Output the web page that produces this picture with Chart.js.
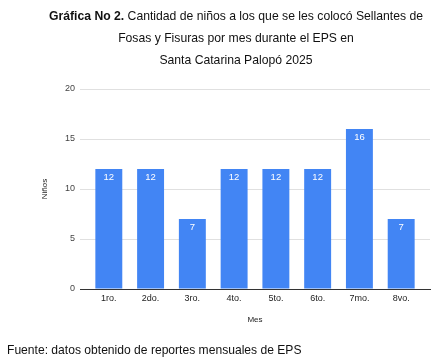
<!DOCTYPE html>
<html><head><meta charset="utf-8">
<script src="https://cdn.jsdelivr.net/npm/chart.js@4/dist/chart.umd.min.js"></script>
<style>
html,body{margin:0;padding:0;background:#fff;width:448px;height:358px;overflow:hidden;font-family:"Liberation Sans",Arial,sans-serif;}
#wrap{position:absolute;left:0;top:0;width:448px;height:358px;}
.t{position:absolute;left:24px;width:424px;text-align:center;font-size:12.2px;color:#111;white-space:nowrap;}
#foot{position:absolute;left:7px;top:343px;font-size:12.1px;color:#111;white-space:nowrap;}
</style></head>
<body>
<div id="wrap"><canvas id="c" width="448" height="358"></canvas></div>
<div class="t" style="top:9px"><b>Gráfica No 2.</b> Cantidad de niños a los que se les colocó Sellantes de</div>
<div class="t" style="top:31px">Fosas y Fisuras por mes durante el EPS en</div>
<div class="t" style="top:53px">Santa Catarina Palopó 2025</div>
<div id="foot">Fuente: datos obtenido de reportes mensuales de EPS</div>
<script>
const categories = ["1ro.", "2do.", "3ro.", "4to.", "5to.", "6to.", "7mo.", "8vo."];
const ninos = [12, 12, 7, 12, 12, 12, 16, 7];
const yTicks = [0, 5, 10, 15, 20];

const FONT = '"Liberation Sans", Arial, sans-serif';

const labelPlugin = {
  id: 'barLabels',
  afterDatasetsDraw(chart) {
    const ctx = chart.ctx;
    const meta = chart.getDatasetMeta(0);
    ctx.save();
    ctx.fillStyle = '#ffffff';
    ctx.font = '9.5px ' + FONT;
    ctx.textAlign = 'center';
    ctx.textBaseline = 'middle';
    meta.data.forEach((bar, i) => {
      ctx.fillText(String(ninos[i]), bar.x, bar.y + 8.5);
    });
    ctx.restore();
  }
};

new Chart(document.getElementById('c'), {
  type: 'bar',
  data: {
    datasets: [{
      data: ninos.map((v, i) => ({x: i, y: v})),
      backgroundColor: '#4285f4',
      borderWidth: 0,
      barPercentage: 0.645,
      categoryPercentage: 1.0
    }]
  },
  options: {
    responsive: false,
    animation: false,
    devicePixelRatio: 1,
    layout: {padding: {left: 40, top: 89, right: 18, bottom: 29}},
    plugins: {legend: {display: false}, tooltip: {enabled: false}, title: {display: false}},
    scales: {
      x: {
        type: 'linear',
        offset: false,
        min: -0.69, max: 7.69,
        afterBuildTicks: (axis) => { axis.ticks = categories.map((_, i) => ({value: i})); },
        afterFit: (s) => { s.height = 40; },
        grid: {display: false, drawTicks: false},
        border: {display: true, color: '#333333', width: 1},
        ticks: {
          callback: (v) => categories[v],
          font: {size: 9, family: FONT}, color: '#222222', padding: 4, maxRotation: 0, autoSkip: false
        },
        title: {display: true, text: 'Mes', font: {size: 8, family: FONT}, color: '#222222', padding: {top: 0, bottom: 4}}
      },
      y: {
        min: 0, max: 20,
        afterBuildTicks: (axis) => { axis.ticks = yTicks.map(v => ({value: v})); },
        afterFit: (s) => { s.width = 40; },
        grid: {color: '#e0e0e0', drawTicks: false, lineWidth: 1},
        border: {display: false},
        ticks: {font: {size: 9, family: FONT}, color: '#444444', padding: 5},
        title: {display: true, text: 'Niños', font: {size: 8, family: FONT}, color: '#222222', padding: {top: 0, bottom: 0}}
      }
    }
  },
  plugins: [labelPlugin]
});
</script>
</body></html>
